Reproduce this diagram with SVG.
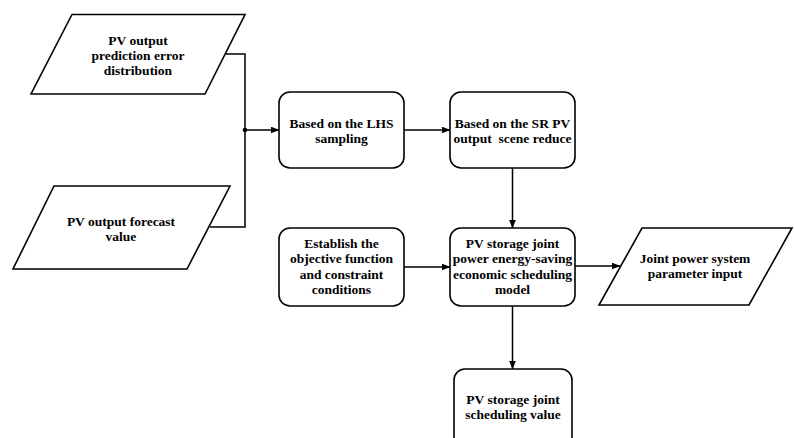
<svg xmlns="http://www.w3.org/2000/svg" width="794" height="438" viewBox="0 0 794 438">
<style>
.n{fill:#fff;stroke:#000;stroke-width:1.6}
.t{font-family:"Liberation Serif","Times New Roman",serif;font-weight:bold;font-size:13.5px;text-anchor:middle;fill:#000}
.c{fill:none;stroke:#000;stroke-width:1.5}
</style>
<defs>
<marker id="a" markerWidth="9" markerHeight="7" refX="8.5" refY="3.5" orient="auto" markerUnits="userSpaceOnUse">
<path d="M0,0 L9,3.5 L0,7 Z" fill="#000"/>
</marker>
</defs>
<rect width="794" height="438" fill="#fff"/>
<g id="connectors">
<polyline class="c" points="226,54 245,54 245,227 210,227"/>
<circle cx="245" cy="130" r="2.3" fill="#000"/>
<line class="c" x1="245" y1="130" x2="279" y2="130" marker-end="url(#a)"/>
<line class="c" x1="404" y1="130" x2="450" y2="130" marker-end="url(#a)"/>
<line class="c" x1="512.5" y1="168" x2="512.5" y2="228" marker-end="url(#a)"/>
<line class="c" x1="404" y1="267" x2="450" y2="267" marker-end="url(#a)"/>
<line class="c" x1="575" y1="266" x2="620" y2="266" marker-end="url(#a)"/>
<line class="c" x1="512.5" y1="306" x2="512.5" y2="369" marker-end="url(#a)"/>
</g>
<g id="pv-error">
<polygon class="n" points="72,14.5 245,14.5 205,94 31,94"/>
<text class="t" x="138" y="44.5">PV output</text>
<text class="t" x="138" y="59.5">prediction error</text>
<text class="t" x="138" y="74.5">distribution</text>
</g>
<g id="pv-forecast">
<polygon class="n" points="54,186 230,186 187,269 13,269"/>
<text class="t" x="121" y="225.5">PV output forecast</text>
<text class="t" x="121" y="240.5">value</text>
</g>
<g id="lhs">
<rect class="n" x="279" y="92" width="125" height="76" rx="11"/>
<text class="t" x="341.5" y="127.5">Based on the LHS</text>
<text class="t" x="341.5" y="142.5">sampling</text>
</g>
<g id="sr">
<rect class="n" x="450" y="92" width="125" height="76" rx="11"/>
<text class="t" x="512.5" y="127.5">Based on the SR PV</text>
<text class="t" x="512.5" y="142.5" xml:space="preserve">output  scene reduce</text>
</g>
<g id="establish">
<rect class="n" x="279" y="228" width="125" height="78" rx="11"/>
<text class="t" x="341.5" y="247.5">Establish the</text>
<text class="t" x="341.5" y="263">objective function</text>
<text class="t" x="341.5" y="278.5">and constraint</text>
<text class="t" x="341.5" y="294">conditions</text>
</g>
<g id="model">
<rect class="n" x="450" y="228" width="125" height="78" rx="11"/>
<text class="t" x="512.5" y="247.5">PV storage joint</text>
<text class="t" x="512.5" y="263">power energy-saving</text>
<text class="t" x="512.5" y="278.5">economic scheduling</text>
<text class="t" x="512.5" y="294">model</text>
</g>
<g id="param">
<polygon class="n" points="642,228 792,228 749,305 599,305"/>
<text class="t" x="695" y="262.5">Joint power system</text>
<text class="t" x="695" y="277.5">parameter input</text>
</g>
<g id="result">
<rect class="n" x="454" y="369" width="118" height="80" rx="11"/>
<text class="t" x="513" y="403.5">PV storage joint</text>
<text class="t" x="513" y="418.5">scheduling value</text>
</g>
</svg>
